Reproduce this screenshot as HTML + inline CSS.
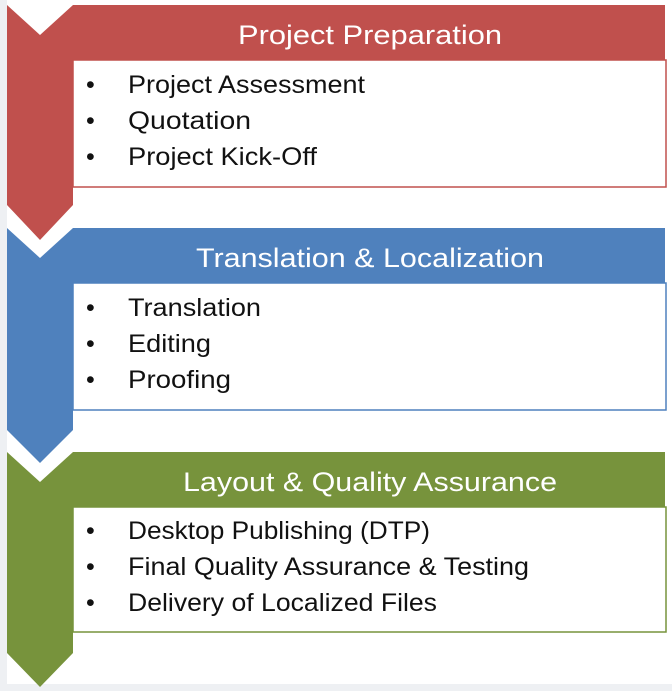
<!DOCTYPE html>
<html><head><style>
html,body{margin:0;padding:0;width:672px;height:691px;overflow:hidden;background:#eef0f3;font-family:"Liberation Sans",sans-serif}
</style></head><body>
<svg width="672" height="691" viewBox="0 0 672 691" xmlns="http://www.w3.org/2000/svg" style="position:absolute;left:0;top:0">
<rect x="7" y="0" width="665" height="684" fill="#fff"/>
<polygon points="7,5 40,35 73,5 665,5 665,60 73,60 73,205 40,240 7,205" fill="#c0504d"/>
<rect x="73" y="60" width="593" height="127" fill="#fff" stroke="#c0504d" stroke-width="1.5"/>
<polygon points="7,228 40,258 73,228 665,228 665,283 73,283 73,430 40,463 7,430" fill="#4f81bd"/>
<rect x="73" y="283" width="593" height="127" fill="#fff" stroke="#4f81bd" stroke-width="1.5"/>
<polygon points="7,452 40,482 73,452 665,452 665,507 73,507 73,653 40,687 7,653" fill="#77933c"/>
<rect x="73" y="507" width="593" height="125" fill="#fff" stroke="#77933c" stroke-width="1.5"/>
<g font-family="Liberation Sans, sans-serif" font-size="27" fill="#fff" lengthAdjust="spacingAndGlyphs">
<text x="238" y="44" textLength="264" lengthAdjust="spacingAndGlyphs">Project Preparation</text>
<text x="196" y="267" textLength="348" lengthAdjust="spacingAndGlyphs">Translation &amp; Localization</text>
<text x="183" y="491" textLength="374" lengthAdjust="spacingAndGlyphs">Layout &amp; Quality Assurance</text>
</g>
<g font-family="Liberation Sans, sans-serif" font-size="25" fill="#111">
<text x="86" y="93">•</text><text x="128" y="93" textLength="237" lengthAdjust="spacingAndGlyphs">Project Assessment</text>
<text x="86" y="129">•</text><text x="128" y="129" textLength="123" lengthAdjust="spacingAndGlyphs">Quotation</text>
<text x="86" y="165">•</text><text x="128" y="165" textLength="189" lengthAdjust="spacingAndGlyphs">Project Kick-Off</text>
<text x="86" y="316">•</text><text x="128" y="316" textLength="133" lengthAdjust="spacingAndGlyphs">Translation</text>
<text x="86" y="352">•</text><text x="128" y="352" textLength="83" lengthAdjust="spacingAndGlyphs">Editing</text>
<text x="86" y="388">•</text><text x="128" y="388" textLength="103" lengthAdjust="spacingAndGlyphs">Proofing</text>
<text x="86" y="539">•</text><text x="128" y="539" textLength="302" lengthAdjust="spacingAndGlyphs">Desktop Publishing (DTP)</text>
<text x="86" y="575">•</text><text x="128" y="575" textLength="401" lengthAdjust="spacingAndGlyphs">Final Quality Assurance &amp; Testing</text>
<text x="86" y="611">•</text><text x="128" y="611" textLength="309" lengthAdjust="spacingAndGlyphs">Delivery of Localized Files</text>
</g>
</svg>
</body></html>
